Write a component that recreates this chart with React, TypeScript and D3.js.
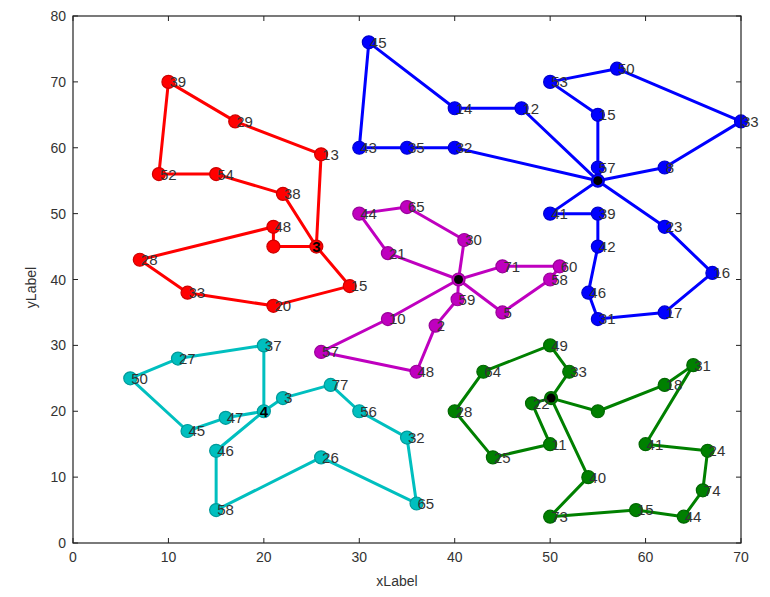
import React from "react";
import * as d3 from "d3";

// Vehicle routes drawn per cluster: each cluster has a depot and node coordinates,
// and each route is a closed tour that starts and ends at the depot.
type Node = { id: string; x: number; y: number };

const xTicks = [0, 10, 20, 30, 40, 50, 60, 70];
const yTicks = [0, 10, 20, 30, 40, 50, 60, 70, 80];

const redDepot: Node = { id: "3", x: 25.5, y: 45 };
const redNodes: Node[] = [
  { id: "39", x: 10, y: 70 },
  { id: "29", x: 17, y: 64 },
  { id: "13", x: 26, y: 59 },
  { id: "52", x: 9, y: 56 },
  { id: "54", x: 15, y: 56 },
  { id: "38", x: 22, y: 53 },
  { id: "48", x: 21, y: 48 },
  { id: "", x: 21, y: 45 },
  { id: "15", x: 29, y: 39 },
  { id: "20", x: 21, y: 36 },
  { id: "33", x: 12, y: 38 },
  { id: "28", x: 7, y: 43 },
];
const redRoutes = [
  [2, 1, 0, 3, 4, 5],
  [7, 6, 11, 10, 9, 8],
];

const blueDepot: Node = { id: "", x: 55, y: 55 };
const blueNodes: Node[] = [
  { id: "45", x: 31, y: 76 },
  { id: "14", x: 40, y: 66 },
  { id: "12", x: 47, y: 66 },
  { id: "43", x: 30, y: 60 },
  { id: "35", x: 35, y: 60 },
  { id: "32", x: 40, y: 60 },
  { id: "53", x: 50, y: 70 },
  { id: "50", x: 57, y: 72 },
  { id: "15", x: 55, y: 65 },
  { id: "57", x: 55, y: 57 },
  { id: "8", x: 62, y: 57 },
  { id: "33", x: 70, y: 64 },
  { id: "41", x: 50, y: 50 },
  { id: "39", x: 55, y: 50 },
  { id: "42", x: 55, y: 45 },
  { id: "46", x: 54, y: 38 },
  { id: "31", x: 55, y: 34 },
  { id: "17", x: 62, y: 35 },
  { id: "16", x: 67, y: 41 },
  { id: "23", x: 62, y: 48 },
];
const blueRoutes = [
  [2, 1, 0, 3, 4, 5],
  [9, 8, 6, 7, 11, 10],
  [12, 13, 14, 15, 16, 17, 18, 19],
];

const magentaDepot: Node = { id: "", x: 40.4, y: 40 };
const magentaNodes: Node[] = [
  { id: "44", x: 30, y: 50 },
  { id: "65", x: 35, y: 51 },
  { id: "30", x: 41, y: 46 },
  { id: "21", x: 33, y: 44 },
  { id: "71", x: 45, y: 42 },
  { id: "60", x: 51, y: 42 },
  { id: "58", x: 50, y: 40 },
  { id: "5", x: 45, y: 35 },
  { id: "59", x: 40.3, y: 37 },
  { id: "2", x: 38, y: 33 },
  { id: "10", x: 33, y: 34 },
  { id: "57", x: 26, y: 29 },
  { id: "48", x: 36, y: 26 },
];
const magentaRoutes = [
  [2, 1, 0, 3],
  [4, 5, 6, 7],
  [10, 11, 12, 9, 8],
];

const cyanDepot: Node = { id: "4", x: 20, y: 20 };
const cyanNodes: Node[] = [
  { id: "37", x: 20, y: 30 },
  { id: "27", x: 11, y: 28 },
  { id: "50", x: 6, y: 25 },
  { id: "45", x: 12, y: 17 },
  { id: "47", x: 16, y: 19 },
  { id: "46", x: 15, y: 14 },
  { id: "58", x: 15, y: 5 },
  { id: "26", x: 26, y: 13 },
  { id: "65", x: 36, y: 6 },
  { id: "32", x: 35, y: 16 },
  { id: "56", x: 30, y: 20 },
  { id: "77", x: 27, y: 24 },
  { id: "3", x: 22, y: 22 },
];
const cyanRoutes = [
  [0, 1, 2, 3, 4],
  [5, 6, 7, 8, 9, 10, 11, 12],
];

const greenDepot: Node = { id: "", x: 50.1, y: 22 };
const greenNodes: Node[] = [
  { id: "33", x: 52, y: 26 },
  { id: "49", x: 50, y: 30 },
  { id: "64", x: 43, y: 26 },
  { id: "28", x: 40, y: 20 },
  { id: "25", x: 44, y: 13 },
  { id: "11", x: 50, y: 15 },
  { id: "22", x: 48.1, y: 21.2 },
  { id: "", x: 55, y: 20 },
  { id: "18", x: 62, y: 24 },
  { id: "31", x: 65, y: 27 },
  { id: "41", x: 60, y: 15 },
  { id: "24", x: 66.5, y: 14 },
  { id: "74", x: 66, y: 8 },
  { id: "44", x: 64, y: 4 },
  { id: "15", x: 59, y: 5 },
  { id: "73", x: 50, y: 4 },
  { id: "40", x: 54, y: 10 },
];
const greenRoutes = [
  [0, 1, 2, 3, 4, 5, 6],
  [7, 8, 9, 10, 11, 12, 13, 14, 15, 16],
];

const clusters = [
  { color: "#ff0000", depot: redDepot, nodes: redNodes, routes: redRoutes },
  { color: "#0000ff", depot: blueDepot, nodes: blueNodes, routes: blueRoutes },
  { color: "#bf00bf", depot: magentaDepot, nodes: magentaNodes, routes: magentaRoutes },
  { color: "#00bfbf", depot: cyanDepot, nodes: cyanNodes, routes: cyanRoutes },
  { color: "#008000", depot: greenDepot, nodes: greenNodes, routes: greenRoutes },
];

const W = 770;
const H = 597;
const left = 73;
const right = 741;
const top = 16;
const bottom = 543;

export default function App() {
  const x = d3.scaleLinear().domain([0, 70]).range([left, right]);
  const y = d3.scaleLinear().domain([0, 80]).range([bottom, top]);
  const line = d3
    .line<Node>()
    .x((d) => x(d.x))
    .y((d) => y(d.y));
  const font = "'Liberation Sans', Arial, sans-serif";
  const tickLen = 5;
  const edge = (c: string) => d3.color(c)!.darker(0.6).formatHex();

  return (
    <svg
      width={W}
      height={H}
      style={{ position: "absolute", left: 0, top: 0, background: "#fff" }}
      fontFamily={font}
    >
      <rect x={0} y={0} width={W} height={H} fill="#fff" />

      {/* routes */}
      {clusters.map((c, ci) => (
        <g key={`r${ci}`}>
          {c.routes.map((r, ri) => {
            const pts = [c.depot, ...r.map((i) => c.nodes[i]), c.depot];
            return (
              <path
                key={ri}
                d={line(pts) || ""}
                fill="none"
                stroke={c.color}
                strokeWidth={3}
                strokeLinejoin="round"
              />
            );
          })}
        </g>
      ))}

      {/* customer and depot markers */}
      {clusters.map((c, ci) => (
        <g key={`m${ci}`}>
          {c.nodes.map((n, i) => (
            <circle
              key={i}
              cx={x(n.x)}
              cy={y(n.y)}
              r={6.5}
              fill={c.color}
              stroke={edge(c.color)}
              strokeWidth={1.2}
            />
          ))}
          <circle
            cx={x(c.depot.x)}
            cy={y(c.depot.y)}
            r={6.5}
            fill={c.color}
            stroke={edge(c.color)}
            strokeWidth={1.2}
          />
          {c.depot.id ? null : (
            <circle cx={x(c.depot.x)} cy={y(c.depot.y)} r={4.5} fill="#000" />
          )}
        </g>
      ))}

      {/* node numbers */}
      {clusters.map((c, ci) => (
        <g key={`t${ci}`} fontSize={15} fill="#333">
          {c.nodes.map((n, i) =>
            n.id ? (
              <text key={i} x={x(n.x) + 1} y={y(n.y)} dy="0.36em">
                {n.id}
              </text>
            ) : null
          )}
          {c.depot.id ? (
            <text
              x={x(c.depot.x)}
              y={y(c.depot.y)}
              dy="0.36em"
              textAnchor="middle"
              fill="#000"
              fontWeight="bold"
            >
              {c.depot.id}
            </text>
          ) : null}
        </g>
      ))}

      {/* axes box */}
      <rect
        x={left}
        y={top}
        width={right - left}
        height={bottom - top}
        fill="none"
        stroke="#222"
        strokeWidth={1.2}
      />
      {xTicks.map((t) => (
        <g key={`xt${t}`}>
          <line x1={x(t)} x2={x(t)} y1={bottom} y2={bottom - tickLen} stroke="#222" />
          <line x1={x(t)} x2={x(t)} y1={top} y2={top + tickLen} stroke="#222" />
          <text x={x(t)} y={bottom + 19} textAnchor="middle" fontSize={14} fill="#333">
            {t}
          </text>
        </g>
      ))}
      {yTicks.map((t) => (
        <g key={`yt${t}`}>
          <line x1={left} x2={left + tickLen} y1={y(t)} y2={y(t)} stroke="#222" />
          <line x1={right} x2={right - tickLen} y1={y(t)} y2={y(t)} stroke="#222" />
          <text
            x={left - 7}
            y={y(t)}
            dy="0.36em"
            textAnchor="end"
            fontSize={14}
            fill="#333"
          >
            {t}
          </text>
        </g>
      ))}
      <text x={(left + right) / 2 - 10} y={586} textAnchor="middle" fontSize={14} fill="#333">
        xLabel
      </text>
      <text
        transform={`translate(36, ${(top + bottom) / 2 + 8}) rotate(-90)`}
        textAnchor="middle"
        fontSize={14}
        fill="#333"
      >
        yLabel
      </text>
    </svg>
  );
}
